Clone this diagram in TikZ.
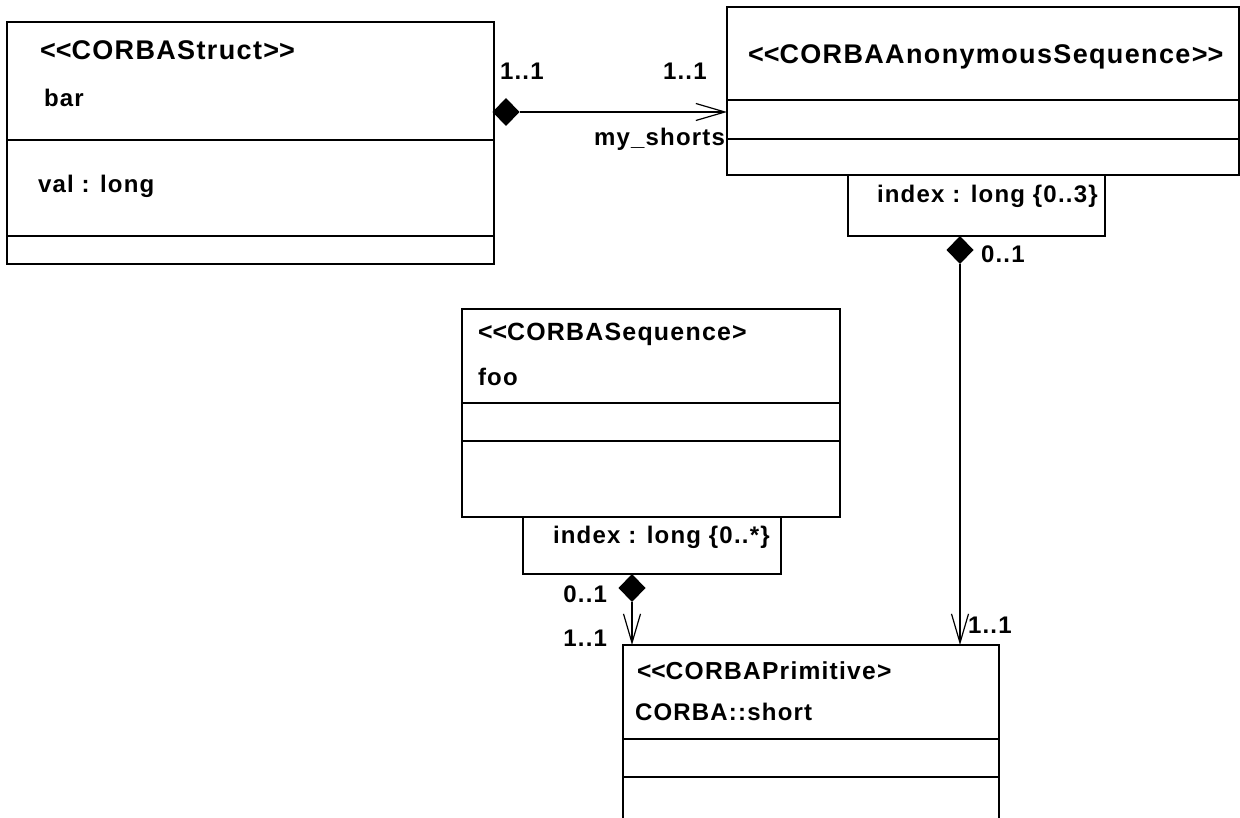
\documentclass[tikz,border=0pt]{standalone}
\usepackage{fontspec}
\setmainfont{Liberation Sans}[LetterSpace=5]
\usetikzlibrary{shapes.geometric,arrows.meta}
\newcommand{\lt}{<\kern0pt}
\newcommand{\gt}{>\kern0pt}
\tikzset{
  umlbox/.style={draw, line width=2pt, rectangle, inner sep=0pt, outer sep=0pt, anchor=north west},
  lbl/.style={inner sep=0pt, outer sep=0pt, anchor=base west, font=\fontsize{24}{28}\selectfont\bfseries},
  lblr/.style={lbl, anchor=base east},
  stereo/.style={lbl, font=\fontsize{#1}{28}\selectfont\bfseries},
  comp/.style={diamond, fill=black, draw=none, inner sep=0pt, outer sep=0pt, minimum width=27pt, minimum height=28pt},
  conn/.style={line width=2pt, -{Straight Barb[length=29pt,width=17pt,line width=1.2pt]}},
  divl/.style={line width=2pt}
}
\begin{document}
\begin{tikzpicture}[x=1pt,y=-1pt]
\useasboundingbox (0,0) rectangle (1240,818);
\clip (0,0) rectangle (1240,818);
% boxes
\node[umlbox, minimum width=487pt, minimum height=242pt] (bar) at (7,22) {};
\node[umlbox, minimum width=512pt, minimum height=168pt] (aseq) at (727,7) {};
\node[umlbox, minimum width=257pt, minimum height=61pt] (aq) at (848,175) {};
\node[umlbox, minimum width=378pt, minimum height=208pt] (foo) at (462,309) {};
\node[umlbox, minimum width=258pt, minimum height=57pt] (fq) at (523,517) {};
\node[umlbox, minimum width=376pt, minimum height=260pt] (prim) at (623,645) {};
% dividers
\draw[divl] (bar.west |- 0,140) -- (bar.east |- 0,140);
\draw[divl] (bar.west |- 0,236) -- (bar.east |- 0,236);
\draw[divl] (aseq.west |- 0,100) -- (aseq.east |- 0,100);
\draw[divl] (aseq.west |- 0,139) -- (aseq.east |- 0,139);
\draw[divl] (foo.west |- 0,403) -- (foo.east |- 0,403);
\draw[divl] (foo.west |- 0,441) -- (foo.east |- 0,441);
\draw[divl] (prim.west |- 0,739) -- (prim.east |- 0,739);
\draw[divl] (prim.west |- 0,777) -- (prim.east |- 0,777);
% texts
\node[stereo=27] (t1) at (40,60) {\lt\lt CORBAStruct\gt\gt};
\node[lbl] (t2) at (44,107) {bar};
\node[lbl] (t3) at (38,193) {val : long};
\node[stereo=27] (t4) at (748,64) {\lt\lt CORBAAnonymousSequence\gt\gt};
\node[lbl] (t5) at (877,203) {index : long \{0..3\}};
\node[stereo=24.9] (t6) at (478,341) {\lt\lt CORBASequence\gt};
\node[lbl] (t7) at (478,385) {foo};
\node[lbl] (t8) at (553,543) {index : long \{0..*\}};
\node[stereo=24.6] (t9) at (637,679) {\lt\lt CORBAPrimitive\gt};
\node[lbl] (t10) at (635,720) {CORBA::short};
% diamonds
\node[comp] (d1) at (506,112) {};
\node[comp] (d2) at (960,250) {};
\node[comp] (d3) at (632,588) {};
% connectors
\draw[conn] (d1.east) -- (aseq.west |- d1.east);
\draw[conn] (d2.south) -- (d2.south |- prim.north);
\draw[conn] (d3.south) -- (d3.south |- prim.north);
% multiplicities
\node[lbl] (m1) at (500,80) {1..1};
\node[lbl] (m2) at (663,80) {1..1};
\node[lblr] (m3) at (725,146) {my\_shorts};
\node[lbl] (m4) at (981,263) {0..1};
\node[lblr] (m5) at (607,602) {0..1};
\node[lblr] (m6) at (607,646) {1..1};
\node[lbl] (m7) at (968,633) {1..1};
\end{tikzpicture}
\end{document}
